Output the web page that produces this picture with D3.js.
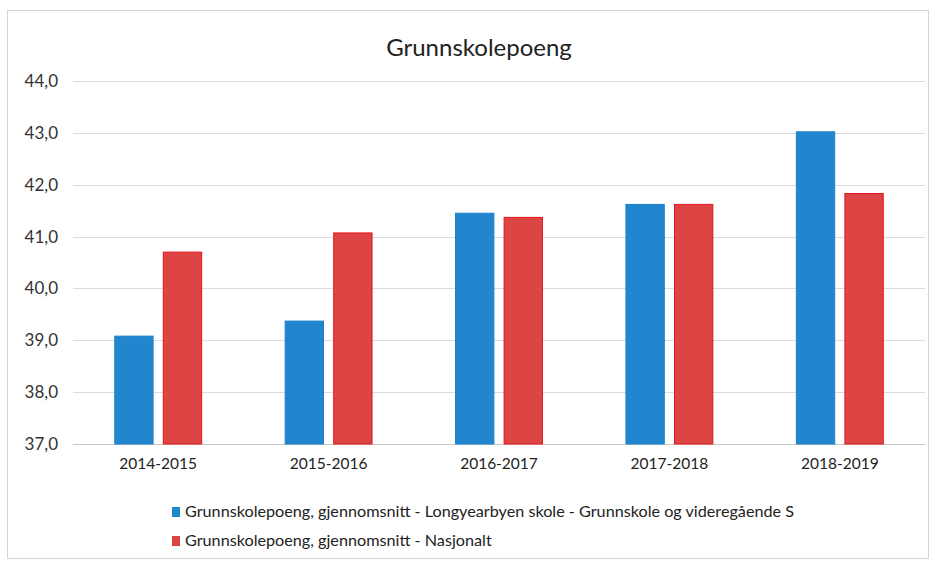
<!DOCTYPE html>
<html>
<head>
<meta charset="utf-8">
<script src="https://cdnjs.cloudflare.com/ajax/libs/d3/7.8.5/d3.min.js"></script>
<style>
body { margin: 0; background: #fff; }
text { font-family: Lato, "Open Sans", sans-serif; fill: #333; }
</style>
</head>
<body>
<div id="chart-area"></div>
<script>
// data
var years = ["2014-2015", "2015-2016", "2016-2017", "2017-2018", "2018-2019"];
var seriesNames = [
  "Grunnskolepoeng, gjennomsnitt - Longyearbyen skole - Grunnskole og videregående S",
  "Grunnskolepoeng, gjennomsnitt - Nasjonalt"
];
var longyearbyen = [39.08, 39.37, 41.45, 41.62, 43.02];
var nasjonalt = [40.7, 41.07, 41.37, 41.62, 41.83];
var yTicks = [37, 38, 39, 40, 41, 42, 43, 44];

var W = 933, H = 562;
var margin = {top: 81, bottom: 118, right: 8, left: 73};
var width = W - margin.left - margin.right;
var height = H - margin.top - margin.bottom;

var svg = d3.select("#chart-area")
  .append("svg")
  .attr("width", W)
  .attr("height", H);

// outer frame
svg.append("rect")
  .attr("x", 7.5).attr("y", 10.5)
  .attr("width", W - 12).attr("height", H - 14)
  .attr("fill", "none")
  .attr("stroke", "#d4d4d4");

svg.append("text")
  .attr("x", 479).attr("y", 56)
  .attr("text-anchor", "middle")
  .attr("font-size", "24px")
  .style("fill", "#222")
  .text("Grunnskolepoeng");

var g = svg.append("g")
  .attr("transform", "translate(" + margin.left + "," + margin.top + ")");

var x = d3.scaleBand().domain(years).range([0, width]).paddingInner(0.49).paddingOuter(0.245);
var xs = d3.scaleBand().domain([0, 1]).range([0, x.bandwidth()]).paddingInner(0.21);
var y = d3.scaleLinear().domain([37, 44]).range([height, 0]);

// gridlines
g.append("g")
  .selectAll("line")
  .data(yTicks)
  .enter()
  .append("line")
  .attr("x1", 0).attr("x2", width)
  .attr("y1", function(d) { return Math.round(y(d)) + 0.5; })
  .attr("y2", function(d) { return Math.round(y(d)) + 0.5; })
  .attr("stroke", function(d) { return d === 37 ? "#c8c8c8" : "#dcdcdc"; });

// y labels
var yAxis = d3.axisLeft(y).tickValues(yTicks).tickSize(0).tickPadding(15)
  .tickFormat(function(d) { return d3.format(".1f")(d).replace(".", ","); });
g.append("g")
  .call(yAxis)
  .call(function(s) { s.select(".domain").remove(); })
  .selectAll("text")
  .attr("font-size", "17px")
  .style("font-family", "Lato, sans-serif")
  .style("fill", "#333");

// x labels
var xAxis = d3.axisBottom(x).tickSize(0).tickPadding(14);
g.append("g")
  .attr("transform", "translate(0," + height + ")")
  .call(xAxis)
  .call(function(s) { s.select(".domain").remove(); })
  .selectAll("text")
  .attr("font-size", "15.5px")
  .style("font-family", "Lato, sans-serif")
  .style("fill", "#222");

var colors = ["#2286cf", "#dd4444"];
var strokes = ["#1c80cc", "#e3161e"];
var series = [longyearbyen, nasjonalt];

series.forEach(function(vals, si) {
  g.append("g")
    .selectAll("rect")
    .data(vals)
    .enter()
    .append("rect")
    .attr("x", function(d, i) { return x(years[i]) + xs(si); })
    .attr("width", xs.bandwidth())
    .attr("y", function(d) { return y(d); })
    .attr("height", function(d) { return y(37) - y(d); })
    .attr("fill", colors[si])
    .attr("stroke", strokes[si])
    .attr("stroke-width", 1);
});

// legend
var legend = svg.append("g").attr("transform", "translate(172,507)");
seriesNames.forEach(function(name, i) {
  var row = legend.append("g").attr("transform", "translate(0," + (i * 29) + ")");
  row.append("rect")
    .attr("x", 0).attr("y", 0)
    .attr("width", 8).attr("height", 10)
    .attr("fill", colors[i]);
  row.append("text")
    .attr("x", 13).attr("y", 10)
    .attr("font-size", "16.2px")
    .style("fill", "#222")
    .text(name);
});
</script>
</body>
</html>
